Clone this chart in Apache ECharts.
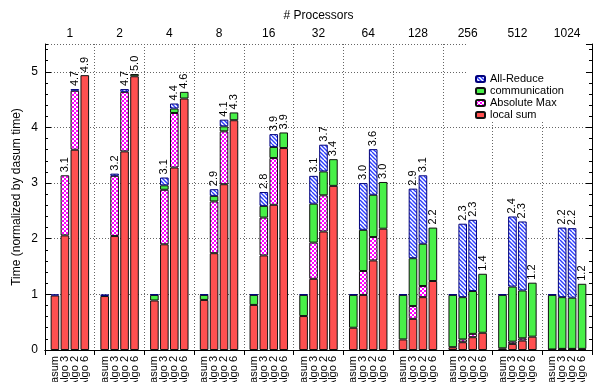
<!DOCTYPE html>
<html>
<head>
<meta charset="utf-8">
<title>Time breakdown per processor count</title>
<script src="https://cdn.jsdelivr.net/npm/echarts@6/dist/echarts.min.js"></script>
<style>
  html, body { margin: 0; padding: 0; background: #fff; }
  #chart { width: 595px; height: 382px; }
</style>
</head>
<body>
<div id="chart"></div>
<script>
// Processor counts (one group each) and the four variants inside a group
const processors = ['1', '2', '4', '8', '16', '32', '64', '128', '256', '512', '1024'];
const variants = ['dasum', 'Algo 3', 'Algo 2', 'Algo 6'];

// Time components, normalized by dasum time; 4 values per processor count
// (order in each group: dasum, Algo 3, Algo 2, Algo 6)
const localSum = [
  0.98, 2.06, 3.60, 4.94,
  0.97, 2.05, 3.57, 4.92,
  0.89, 1.90, 3.28, 4.52,
  0.90, 1.74, 2.98, 4.13,
  0.81, 1.70, 2.61, 3.63,
  0.61, 1.28, 2.13, 2.95,
  0.40, 0.99, 1.61, 2.18,
  0.19, 0.56, 0.95, 1.24,
  0.05, 0.14, 0.23, 0.31,
  0.03, 0.11, 0.17, 0.24,
  0.01, 0.01, 0.01, 0.02
];
const absoluteMax = [
  0, 1.08, 1.06, 0,
  0, 1.08, 1.07, 0,
  0, 0.98, 0.98, 0,
  0, 0.93, 0.95, 0,
  0, 0.68, 0.84, 0,
  0, 0.65, 0.65, 0,
  0, 0.43, 0.42, 0,
  0, 0.23, 0.20, 0,
  0, 0.05, 0.06, 0,
  0, 0.04, 0.04, 0,
  0, 0.01, 0.01, 0
];
const communication = [
  0,    0,    0,    0,
  0,    0,    0,    0.04,
  0.10, 0.08, 0.08, 0.12,
  0.09, 0.10, 0.09, 0.14,
  0.18, 0.21, 0.20, 0.28,
  0.38, 0.70, 0.43, 0.48,
  0.59, 0.74, 0.76, 0.84,
  0.80, 0.86, 0.76, 0.96,
  0.94, 0.76, 0.77, 1.06,
  0.96, 0.99, 0.86, 0.97,
  0.98, 0.93, 0.92, 1.17
];
const allReduce = [
  0.02, 0,    0.03, 0,
  0.03, 0.04, 0.05, 0,
  0.01, 0.14, 0.09, 0,
  0.01, 0.12, 0.12, 0,
  0.01, 0.25, 0.23, 0,
  0.01, 0.50, 0.48, 0,
  0.01, 0.84, 0.82, 0,
  0.01, 1.25, 1.23, 0,
  0.01, 1.32, 1.28, 0,
  0.01, 1.26, 1.24, 0,
  0.01, 1.25, 1.25, 0
];

const FONT = '"Liberation Sans", Arial, Helvetica, sans-serif';

// Bottom axis: one slot per bar plus one empty slot between groups.
// Slot 5g is a group boundary, slots 5g+1..5g+4 hold the four variants.
const slotCount = processors.length * 5 + 1;
const slotNames = [];
const slotBar = [];      // slot -> index into the value arrays, or -1
for (let s = 0; s < slotCount; s++) {
  const r = s % 5, g = Math.floor(s / 5);
  if (r === 0 || g >= processors.length) { slotNames.push(''); slotBar.push(-1); }
  else { slotNames.push(variants[r - 1]); slotBar.push(g * 4 + r - 1); }
}

// Fill patterns
function hatch() {
  const s = 8, c = document.createElement('canvas');
  c.width = s; c.height = s;
  const g = c.getContext('2d');
  g.fillStyle = '#fff'; g.fillRect(0, 0, s, s);
  g.strokeStyle = '#2a3cff'; g.lineWidth = 1.4;
  g.beginPath();
  for (let o = -s; o <= s; o += 4) { g.moveTo(o, 0); g.lineTo(o + s, s); }
  g.stroke();
  return { image: c, repeat: 'repeat' };
}
function checker() {
  const c = document.createElement('canvas');
  c.width = 4; c.height = 4;
  const g = c.getContext('2d');
  g.fillStyle = '#ff00ff'; g.fillRect(0, 0, 4, 4);
  g.fillStyle = '#ffffff';
  g.fillRect(0, 0, 2, 2); g.fillRect(2, 2, 2, 2);
  return { image: c, repeat: 'repeat' };
}

function toData(values) {
  return slotBar.map(k => {
    if (k < 0) return '-';
    const v = values[k];
    return v === 0
      ? { value: 0, itemStyle: { borderWidth: 0, color: 'rgba(0,0,0,0)' } }
      : v;
  });
}

function totalOf(k) {
  const t = localSum[k] + absoluteMax[k] + communication[k] + allReduce[k];
  return Math.round(t * 100) / 100;
}

function barSeries(name, values, fill, border) {
  return {
    name, type: 'bar', stack: 'time', xAxisIndex: 0, yAxisIndex: 0,
    barWidth: 8.6,
    itemStyle: { color: fill, borderColor: border, borderWidth: 1 },
    emphasis: { disabled: true },
    data: toData(values)
  };
}

const series = [
  barSeries('local sum', localSum, '#ff5050', '#111'),
  barSeries('Absolute Max', absoluteMax, checker(), '#111'),
  barSeries('communication', communication, '#48f048', '#111'),
  barSeries('All-Reduce', allReduce, hatch(), '#00007a')
];
// totals written above the stacked bars (not for the dasum reference)
series[3].label = {
  show: true, position: 'top', rotate: 90, align: 'left', verticalAlign: 'middle',
  distance: 3, fontSize: 11, fontFamily: FONT, color: '#000',
  formatter: p => {
    const k = slotBar[p.dataIndex];
    return (k < 0 || k % 4 === 0) ? '' : totalOf(k).toFixed(1);
  }
};

const dotted = { type: [1, 2], color: '#666', width: 1 };
const black = { color: '#000', width: 1 };

const chart = echarts.init(document.getElementById('chart'), null, { renderer: 'canvas' });
chart.setOption({
  animation: false,
  backgroundColor: '#fff',
  grid: { left: 45, right: 3, top: 44, bottom: 32, containLabel: false, outerBoundsMode: 'none' },
  legend: {
    orient: 'vertical', left: 466, top: 44,
    padding: [29, 22, 0, 9], backgroundColor: '#fff',
    itemWidth: 9, itemHeight: 6, itemGap: 0, selectedMode: false,
    textStyle: { fontSize: 11, lineHeight: 12, fontFamily: FONT, color: '#000' },
    data: ['All-Reduce', 'communication', 'Absolute Max', 'local sum']
  },
  xAxis: [
    {
      type: 'category', position: 'bottom', data: slotNames, boundaryGap: false,
      axisLine: { show: true, lineStyle: black },
      axisTick: { show: false }, splitLine: { show: false },
      axisLabel: { interval: 0, rotate: 90, margin: 6, fontSize: 11, fontFamily: FONT, color: '#000' }
    },
    {
      type: 'category', position: 'top', data: processors, boundaryGap: true,
      axisLine: { show: true, lineStyle: black },
      axisTick: { show: true, inside: true, length: 5, lineStyle: black },
      splitLine: { show: true, lineStyle: dotted },
      axisLabel: { margin: 4, fontSize: 12, fontFamily: FONT, color: '#000' },
      name: '# Processors', nameLocation: 'middle', nameGap: 22, nameMoveOverlap: false,
      nameTextStyle: { fontSize: 12, fontFamily: FONT, color: '#000' }
    }
  ],
  yAxis: [
    {
      type: 'value', position: 'left', min: 0, max: 5.5, interval: 1,
      axisLine: { show: true, lineStyle: black },
      axisTick: { show: true, inside: true, length: 6, lineStyle: black },
      axisLabel: { margin: 7, fontSize: 12, fontFamily: FONT, color: '#000', showMaxLabel: false },
      splitLine: { show: true, lineStyle: dotted },
      name: 'Time (normalized by dasum time)', nameLocation: 'middle', nameGap: 22,
      nameMoveOverlap: false,
      nameTextStyle: { fontSize: 12, fontFamily: FONT, color: '#000' }
    },
    {
      type: 'value', position: 'left', min: 0, max: 5.5, interval: 0.2,
      axisLine: { show: false }, axisLabel: { show: false }, splitLine: { show: false },
      axisTick: { show: true, inside: true, length: 3, lineStyle: black }
    },
    {
      type: 'value', position: 'right', min: 0, max: 5.5, interval: 1,
      axisLine: { show: true, lineStyle: black }, axisLabel: { show: false },
      splitLine: { show: false },
      axisTick: { show: true, inside: true, length: 6, lineStyle: black }
    },
    {
      type: 'value', position: 'right', min: 0, max: 5.5, interval: 0.2,
      axisLine: { show: false }, axisLabel: { show: false }, splitLine: { show: false },
      axisTick: { show: true, inside: true, length: 3, lineStyle: black }
    }
  ],
  series
});
</script>
</body>
</html>
